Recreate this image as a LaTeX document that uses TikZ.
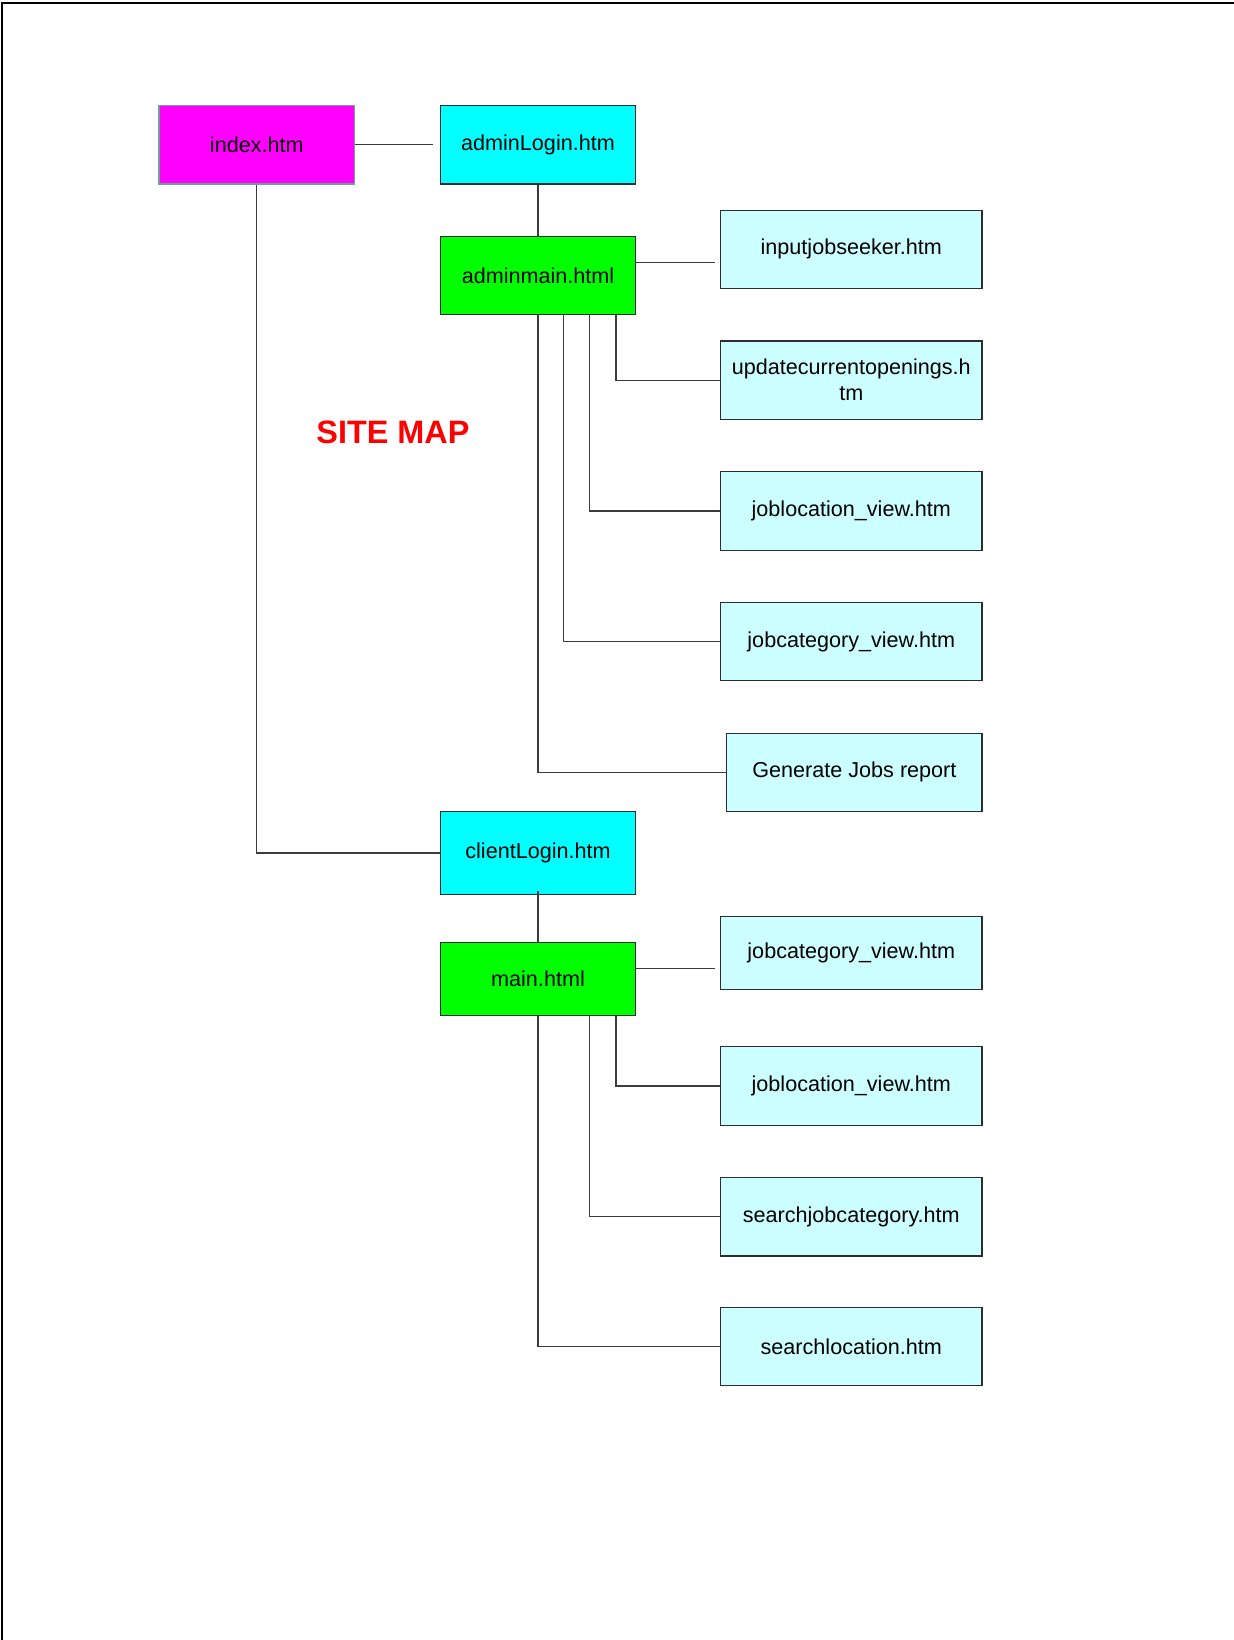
\documentclass[tikz,border=0pt]{standalone}
\usepackage{fontspec}
\setmainfont{Liberation Sans}
\definecolor{pmag}{RGB}{255,0,255}
\definecolor{pcyan}{RGB}{0,255,255}
\definecolor{pgreen}{RGB}{0,255,0}
\definecolor{plight}{RGB}{204,255,255}
\definecolor{pline}{RGB}{60,60,60}
\definecolor{pborder}{RGB}{45,45,45}
\definecolor{pteal}{RGB}{110,160,150}
\begin{document}
\begin{tikzpicture}[x=0.5pt,y=-0.5pt,
  pagebox/.style={draw=pborder,line width=0.6pt,rectangle,inner sep=0pt,align=center,
    font=\fontsize{10.8pt}{13pt}\selectfont,text=black},
  narrow/.style={pagebox,minimum width=97.75pt},
  wide/.style={pagebox,minimum width=130.7pt},
  hh/.style={minimum height=39.2pt},
  conn/.style={draw=pline,line width=0.65pt}]
\useasboundingbox (0,0) rectangle (1234,1640);
\fill[white] (0,0) rectangle (1234,1640);
\draw[line width=1pt,black] (1.8,1640) -- (1.8,3.3) -- (1234,3.3);

% left column
\node[narrow,hh,fill=pmag,draw=pteal] (index) at (256.8,144.8) {index.htm};
\node[narrow,hh,fill=pcyan] (adminLogin) at (538,144.8) {adminLogin.htm};
\node[narrow,hh,fill=pgreen] (adminmain) at (538,275.5) {adminmain.html};
\node[narrow,minimum height=41.35pt,fill=pcyan] (clientLogin) at (538,852.9) {clientLogin.htm};
\node[narrow,minimum height=36.6pt,fill=pgreen] (main) at (538,978.9) {main.html};

% admin pages
\node[wide,hh,fill=plight] (inputjob) at (851.3,249.4) {inputjobseeker.htm};
\node[wide,hh,fill=plight] (update) at (851.3,380.2) {updatecurrentopenings.h\\tm};
\node[wide,hh,fill=plight] (jobloc) at (851.3,510.9) {joblocation\_view.htm};
\node[wide,hh,fill=plight] (jobcat) at (851.3,641.6) {jobcategory\_view.htm};
\node[pagebox,minimum width=127.6pt,hh,fill=plight] (generate) at (854.4,772.3) {Generate Jobs report};

% client pages
\node[wide,minimum height=36.6pt,fill=plight] (jobcattwo) at (851.3,952.7) {jobcategory\_view.htm};
\node[wide,hh,fill=plight] (jobloctwo) at (851.3,1086) {joblocation\_view.htm};
\node[wide,hh,fill=plight] (searchcat) at (851.3,1216.8) {searchjobcategory.htm};
\node[wide,hh,fill=plight] (searchloc) at (851.3,1346.5) {searchlocation.htm};

% title
\node[text=red,font=\fontsize{16.2pt}{19pt}\selectfont\bfseries] (title) at (393,432) {SITE MAP};

% connectors
\draw[conn,shorten >=3.5pt] (index) -- (adminLogin);
\draw[conn] (index.south) |- (clientLogin.west);
\draw[conn] (adminLogin) -- (adminmain);
\draw[conn,shorten >=2.7pt] (adminmain.east |- 0,262.5) -- (inputjob.west |- 0,262.5);
\draw[conn] (adminmain.south -| 616,0) |- (update.west);
\draw[conn] (adminmain.south -| 589.8,0) |- (jobloc.west);
\draw[conn] (adminmain.south -| 563.7,0) |- (jobcat.west);
\draw[conn] (adminmain.south) |- (generate.west);

\draw[conn] ([yshift=2pt]clientLogin.south) -- (main.north);
\draw[conn,shorten >=2.7pt] (main.east |- 0,968.4) -- (jobcattwo.west |- 0,968.4);
\draw[conn] (main.south -| 616,0) |- (jobloctwo.west);
\draw[conn] (main.south -| 589.8,0) |- (searchcat.west);
\draw[conn] (main.south) |- (searchloc.west);
\end{tikzpicture}
\end{document}
